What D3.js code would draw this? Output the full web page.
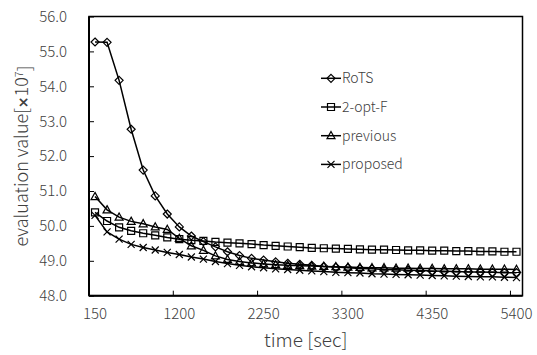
<!DOCTYPE html>
<meta charset="utf-8">
<script src="https://d3js.org/d3.v7.min.js"></script>
<style>
  body { margin: 0; background: #fff; }
  text { font-family: "Noto Sans CJK JP", "Noto Sans", sans-serif; font-weight: 300; fill: #404040; }
</style>
<div id="chart"></div>
<script>
  // time axis categories (sec)
  var times = [150, 300, 450, 600, 750, 900, 1050, 1200, 1350, 1500, 1650, 1800,
    1950, 2100, 2250, 2400, 2550, 2700, 2850, 3000, 3150, 3300, 3450, 3600,
    3750, 3900, 4050, 4200, 4350, 4500, 4650, 4800, 4950, 5100, 5250, 5400];
  var xTickLabels = [150, 1200, 2250, 3300, 4350, 5400];
  var yTicks = [48, 49, 50, 51, 52, 53, 54, 55, 56];

  var rots = [55.27, 55.26, 54.17, 52.77, 51.60, 50.86, 50.34, 49.97, 49.71, 49.55, 49.40, 49.26,
    49.15, 49.07, 49.02, 48.97, 48.93, 48.90, 48.87, 48.84, 48.82, 48.80, 48.78, 48.77,
    48.75, 48.74, 48.73, 48.72, 48.71, 48.70, 48.69, 48.68, 48.68, 48.67, 48.66, 48.66];
  var twoOptF = [50.39, 50.14, 49.96, 49.86, 49.79, 49.73, 49.67, 49.62, 49.59, 49.57, 49.54, 49.52,
    49.50, 49.48, 49.45, 49.43, 49.41, 49.39, 49.37, 49.36, 49.35, 49.34, 49.33, 49.32,
    49.32, 49.31, 49.30, 49.30, 49.29, 49.29, 49.28, 49.28, 49.27, 49.27, 49.26, 49.26];
  var previous = [50.84, 50.46, 50.25, 50.13, 50.06, 49.97, 49.90, 49.64, 49.43, 49.30, 49.14, 49.04,
    48.98, 48.94, 48.91, 48.89, 48.87, 48.86, 48.85, 48.84, 48.83, 48.82, 48.81, 48.80,
    48.80, 48.79, 48.79, 48.78, 48.78, 48.77, 48.77, 48.77, 48.76, 48.76, 48.76, 48.75];
  var proposed = [50.30, 49.83, 49.62, 49.47, 49.38, 49.31, 49.24, 49.18, 49.11, 49.05, 48.98, 48.92,
    48.87, 48.83, 48.80, 48.77, 48.75, 48.73, 48.71, 48.69, 48.67, 48.66, 48.65, 48.63,
    48.62, 48.61, 48.60, 48.59, 48.58, 48.57, 48.56, 48.55, 48.54, 48.54, 48.53, 48.52];

  var seriesNames = ["RoTS", "2-opt-F", "previous", "proposed"];
  var seriesValues = [rots, twoOptF, previous, proposed];
  var markerShapes = ["diamond", "square", "triangle", "cross"];

  var W = 537, H = 355;
  var plot = { left: 89, right: 522.5, top: 16.5, bottom: 295.7 };

  var svg = d3.select("#chart").append("svg")
    .attr("width", W).attr("height", H);

  var x = d3.scaleBand().domain(times).range([plot.left, plot.right]).padding(0);
  var y = d3.scaleLinear().domain([48, 56]).range([plot.bottom, plot.top]);
  var cx = function (t) { return x(t) + x.bandwidth() / 2; };

  function markerPath(shape) {
    if (shape == "diamond") return "M0,-4L4,0L0,4L-4,0Z";
    if (shape == "square") return "M-3.5,-3.5h7v7h-7Z";
    if (shape == "triangle") return "M0,-4.2L4,3L-4,3Z";
    return "M-3.5,-3.5L3.5,3.5M-3.5,3.5L3.5,-3.5";
  }

  // y axis (inner ticks + labels)
  var yAxis = svg.append("g")
    .attr("transform", "translate(" + plot.left + ",0)")
    .call(d3.axisLeft(y).tickValues(yTicks).tickFormat(d3.format(".1f"))
      .tickSizeInner(-5).tickSizeOuter(0).tickPadding(22));
  yAxis.select(".domain").remove();
  yAxis.selectAll("line").attr("stroke", "#000").attr("stroke-width", 1);
  yAxis.selectAll("text").style("font-size", "15px").attr("fill", "#404040");

  // x axis labels at category centers
  var xAxis = svg.append("g")
    .attr("transform", "translate(0," + plot.bottom + ")")
    .call(d3.axisBottom(x).tickValues(xTickLabels).tickSize(0).tickPadding(13));
  xAxis.select(".domain").remove();
  xAxis.selectAll("text").style("font-size", "15px").attr("fill", "#404040");

  // x tick marks between categories (left edge of band)
  svg.selectAll(".xtick")
    .data(xTickLabels)
    .enter()
    .append("line")
    .attr("x1", function (d) { return x(d); })
    .attr("x2", function (d) { return x(d); })
    .attr("y1", plot.bottom)
    .attr("y2", plot.bottom - 5)
    .attr("stroke", "#000");

  // plot frame
  svg.append("rect")
    .attr("x", plot.left).attr("y", plot.top)
    .attr("width", plot.right - plot.left).attr("height", plot.bottom - plot.top)
    .attr("fill", "none").attr("stroke", "#000").attr("stroke-width", 1.5);
  svg.append("line")
    .attr("x1", plot.left).attr("x2", plot.left)
    .attr("y1", plot.top).attr("y2", plot.bottom)
    .attr("stroke", "#000").attr("stroke-width", 2);
  svg.append("line")
    .attr("x1", plot.left).attr("x2", plot.right)
    .attr("y1", plot.bottom).attr("y2", plot.bottom)
    .attr("stroke", "#000").attr("stroke-width", 2);

  // series
  var line = d3.line()
    .x(function (d, i) { return cx(times[i]); })
    .y(function (d) { return y(d); });

  seriesValues.forEach(function (vals, k) {
    svg.append("path")
      .datum(vals)
      .attr("d", line)
      .attr("fill", "none")
      .attr("stroke", "#000")
      .attr("stroke-width", 1.5);
    svg.selectAll(".m" + k)
      .data(vals)
      .enter()
      .append("path")
      .attr("transform", function (d, i) { return "translate(" + cx(times[i]) + "," + y(d) + ")"; })
      .attr("d", markerPath(markerShapes[k]))
      .attr("fill", "none")
      .attr("stroke", "#000")
      .attr("stroke-width", 1.2);
  });

  // legend
  var legend = svg.append("g");
  seriesNames.forEach(function (name, k) {
    var ly = 78.3 + k * 28.7;
    legend.append("line")
      .attr("x1", 321).attr("x2", 341)
      .attr("y1", ly).attr("y2", ly)
      .attr("stroke", "#000").attr("stroke-width", 1.5);
    legend.append("path")
      .attr("transform", "translate(331," + ly + ")")
      .attr("d", markerPath(markerShapes[k]))
      .attr("fill", "none").attr("stroke", "#000").attr("stroke-width", 1.2);
    legend.append("text")
      .attr("x", 342).attr("y", ly)
      .attr("dy", "0.36em")
      .style("font-size", "14px")
      .attr("fill", "#000")
      .text(name);
  });

  // axis titles
  svg.append("text")
    .attr("x", (plot.left + plot.right) / 2)
    .attr("y", 347)
    .attr("text-anchor", "middle")
    .style("font-size", "19px")
    .text("time [sec]");

  var yt = svg.append("text")
    .attr("transform", "translate(28," + (plot.top + plot.bottom) / 2 + ") rotate(-90)")
    .attr("text-anchor", "middle")
    .style("font-size", "18px");
  yt.append("tspan").text("evaluation value[");
  yt.append("tspan").style("font-family", "DejaVu Sans").style("font-weight", "bold")
    .style("font-size", "14px").text("×");
  yt.append("tspan").text("10");
  yt.append("tspan").attr("dy", "-0.45em").style("font-size", "11px").text("7");
  yt.append("tspan").attr("dy", "0.45em").text("]");
</script>
